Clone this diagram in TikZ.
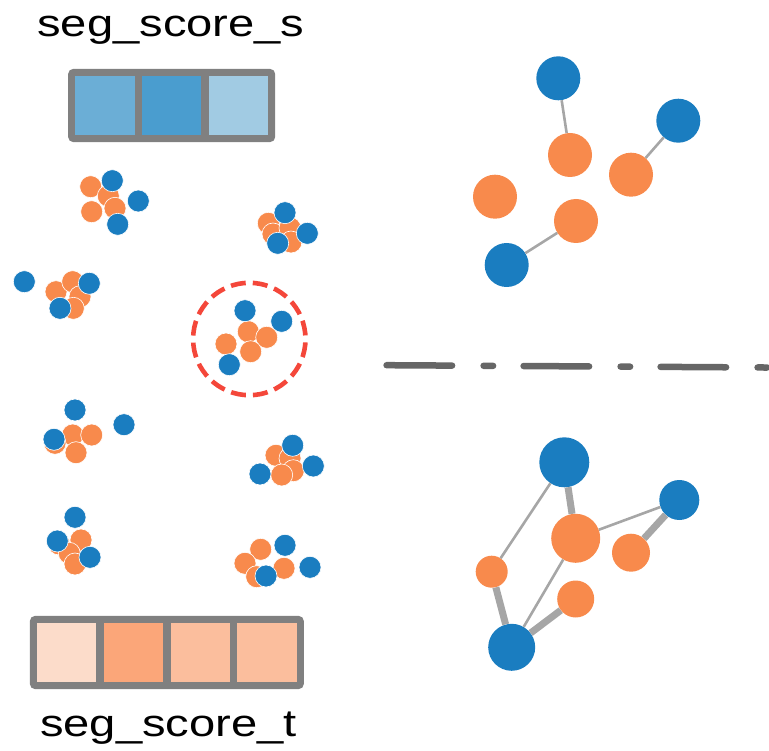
\documentclass[tikz,border=0pt]{standalone}
\usepackage{fontspec,graphicx}
\setmainfont{Liberation Sans}
\usetikzlibrary{positioning,fit,backgrounds}
\definecolor{bl}{HTML}{1A7DC0}
\definecolor{og}{HTML}{F88A4C}
\definecolor{eg}{HTML}{A6A6A6}
\definecolor{fr}{HTML}{808080}
\definecolor{hl}{HTML}{F4473A}
\definecolor{sp}{HTML}{666666}
\definecolor{sA}{HTML}{6BAED6}
\definecolor{sB}{HTML}{4A9DCF}
\definecolor{sC}{HTML}{A1CBE3}
\definecolor{tA}{HTML}{FCDCCA}
\definecolor{tB}{HTML}{FBA679}
\definecolor{tC}{HTML}{FBBE9D}
\tikzset{
  dot/.style={circle,draw=white,line width=0.6pt,inner sep=0pt,minimum size=22pt},
  odot/.style={dot,fill=og},
  bdot/.style={dot,fill=bl},
  gnode/.style={circle,inner sep=0pt,minimum size=#1},
  lnk/.style={draw=eg,line width=2.6pt},
  hlnk/.style={draw=eg,line width=7pt},
  cell/.style={inner sep=0pt,minimum size=59.5pt},
  frame/.style={draw=fr,fill=fr,line width=6.7pt,inner sep=3.35pt,rounded corners=2.5pt},
  lbl/.style={font=\fontsize{38}{40}\selectfont,inner sep=0pt},
  hlring/.style={circle,draw=hl,line width=4.6pt,dash pattern=on 15pt off 7.07pt,dash phase=18.5pt,inner sep=0pt,minimum size=112.4pt},
  sepline/.style={draw=sp,line width=6.5pt,line cap=round,dash pattern=on 65.5pt off 31.5pt on 9.5pt off 30.5pt},
}
\begin{document}
\begin{tikzpicture}[x=1pt,y=-1pt]
\useasboundingbox (0,0) rectangle (769,751);
\clip (0,0) rectangle (769,751);

% score bars
\node[cell,fill=sA] (s1) at (104.75,105.5) {};
\node[cell,fill=sB,right=7pt of s1] (s2) {};
\node[cell,fill=sC,right=7pt of s2] (s3) {};
\node[cell,fill=tA] (t1) at (66.5,652.5) {};
\node[cell,fill=tB,right=7pt of t1] (t2) {};
\node[cell,fill=tC,right=7pt of t2] (t3) {};
\node[cell,fill=tC,right=7pt of t3] (t4) {};
\begin{scope}[on background layer]
  \node[frame,fit=(s1)(s3)] (sbar) {};
  \node[frame,fit=(t1)(t4)] (tbar) {};
\end{scope}
\node[lbl,anchor=base] (stxt) at (171,37) {\scalebox{1.24}[1]{seg\_score\_s}};
\node[lbl,anchor=base] (ttxt) at (168.5,736) {\scalebox{1.24}[1]{seg\_score\_t}};

% segment clusters
\foreach \n/\x/\y in {a1/90.7/186.7,a2/91.7/211.7,a3/108.3/196,a4/115/208.3,
  b1/268.3/223.3,b2/273/234,b3/290/228,b4/291/242,
  c1/56/291.7,c2/72.7/281.7,c3/80/296.7,c4/73.3/308.3,
  d1/248.3/331.7,d2/266.7/337.3,d3/226/344,d4/250.7/351.7,
  e1/72.7/435,e2/91.7/435,e3/55/443.3,e4/76/452.7,
  f1/276/455.3,f2/290/458.3,f3/293.3/470.7,f4/281.7/475,
  g1/81/540,g2/59/544,g3/69.3/553.3,g4/75/564,
  h1/260.7/549.3,h2/245/563.3,h3/256.7/576.7,h4/284/568.3}
  \node[odot] (\n) at (\x,\y) {};
\foreach \n/\x/\y in {a5/112.3/180.7,a6/138.3/201,a7/117.7/224.3,
  b5/285/212.7,b6/307.3/233.3,b7/277.7/243.3,
  c5/24.3/281.7,c6/89.3/283.3,c7/60/308.3,
  d5/245/310.7,d6/281.7/321.3,d7/229.3/364.7,
  e5/75/410,e6/124/424.7,e7/54/439.3,
  f5/292.7/445.3,f6/313.3/466,f7/260/474,
  g5/75/517.3,g6/57.3/541,g7/90/557.3,
  h5/285/545.3,h6/310/567.3,h7/266/576}
  \node[bdot] (\n) at (\x,\y) {};
\node[hlring] (hring) at (249.3,339) {};

% separator
\coordinate (sepa) at (386.6,365.2);
\coordinate (sepb) at (780,367.6);
\draw[sepline] (sepa) -- (sepb);

% source graph
\node[gnode=44pt,fill=bl] (u1) at (558.3,78.3) {};
\node[gnode=44pt,fill=og] (u2) at (570,155) {};
\node[gnode=44pt,fill=bl] (u3) at (678.3,120.7) {};
\node[gnode=44pt,fill=og] (u4) at (631,174.7) {};
\node[gnode=44pt,fill=og] (u5) at (495,196.7) {};
\node[gnode=44pt,fill=og] (u6) at (576,221) {};
\node[gnode=44pt,fill=bl] (u7) at (506.7,265) {};
\draw[lnk] (u1) -- (u2);
\draw[lnk] (u3) -- (u4);
\draw[lnk] (u6) -- (u7);

% target graph
\node[gnode=50pt,fill=bl] (v1) at (564.3,462.3) {};
\node[gnode=49pt,fill=og] (v2) at (575.7,538.3) {};
\node[gnode=40pt,fill=bl] (v3) at (679.3,500) {};
\node[gnode=38pt,fill=og] (v4) at (631,552.7) {};
\node[gnode=32pt,fill=og] (v5) at (491.7,571.7) {};
\node[gnode=37pt,fill=og] (v6) at (575.7,599) {};
\node[gnode=47pt,fill=bl] (v7) at (511.7,647.3) {};
\draw[lnk] (v1) -- (v5);
\draw[hlnk] (v1) -- (v2);
\draw[lnk] (v2) -- (v3);
\draw[hlnk] (v3) -- (v4);
\draw[hlnk] (v5) -- (v7);
\draw[lnk] (v2) -- (v7);
\draw[hlnk] (v6) -- (v7);
\end{tikzpicture}
\end{document}
